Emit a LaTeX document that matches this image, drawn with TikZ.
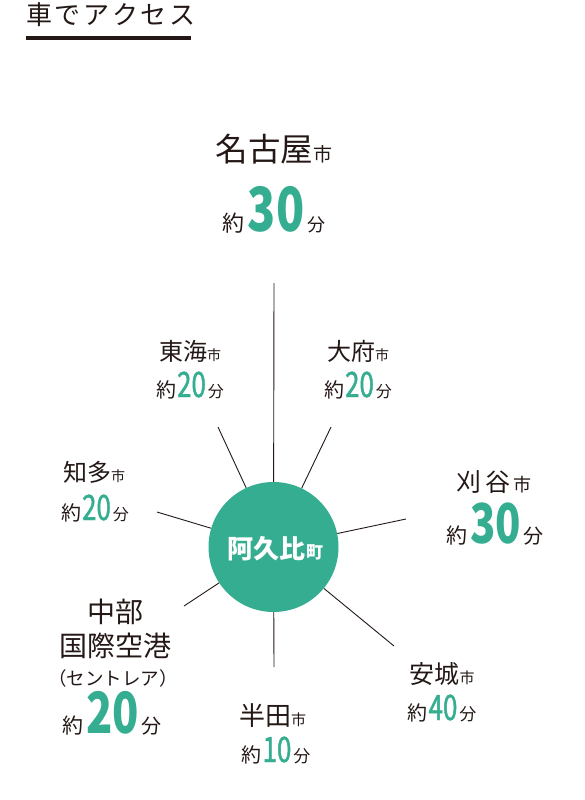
\documentclass[tikz,border=0pt]{standalone}
\usepackage{fontspec}
\setmainfont{Noto Sans CJK JP}
\newfontfamily\numfont[FakeStretch=0.76]{Noto Sans CJK JP}
\newfontfamily\numfontM[FakeStretch=0.74,FakeBold=1.2]{Noto Sans CJK JP}
\definecolor{ink}{RGB}{35,24,21}
\definecolor{grn}{RGB}{52,173,144}
\newcommand\fsz[1]{\fontsize{#1}{#1}\selectfont}
% #1 size of 約, #2 number, #3 number size, #4 size of 分
\newcommand\yakuN[4]{{\fsz{#1}約}\kern1pt{\numfontM\fsz{#3}\color{grn}#2}\kern2pt{\fsz{#4}分}}
\newcommand\yakuB[4]{{\fsz{#1}約}\kern3pt{\numfont\bfseries\fsz{#3}\color{grn}#2}\kern3pt{\fsz{#4}分}}
\begin{document}
\begin{tikzpicture}[x=1pt,y=-1pt,
  lbl/.style={anchor=base, inner sep=0pt, text=ink},
  spoke/.style={draw=ink, line width=0.9pt}]
\useasboundingbox (0,0) rectangle (584,800);
% title
\node[lbl, anchor=base west] (title) at (26,24.5)
  {\fsz{26}車\kern2.6pt で\kern2.6pt ア\kern2.6pt ク\kern2.6pt セ\kern2.6pt ス};
\fill[ink] (26,36.5) rectangle (191,40);
% centre
\node[circle, fill=grn, minimum size=130pt, inner sep=0pt] (c) at (273.5,547) {};
\node[lbl, text=white, font=\bfseries] (cname) at (275,558) {\fsz{26}阿久比\kern1pt\fsz{17}町};
% spokes
\coordinate (pN) at (274,283);
\coordinate (pTokai) at (218,427);
\coordinate (pObu) at (331,427);
\coordinate (pChita) at (157,512);
\coordinate (pKariya) at (406,519);
\coordinate (pChubu) at (184,606);
\coordinate (pHanda) at (274,667);
\coordinate (pAnjo) at (394,646);
\foreach \p in {pN,pTokai,pObu,pChita,pKariya,pChubu,pHanda,pAnjo}
  \draw[spoke] (c) -- (\p);
% labels
\node[lbl] (nagoya) at (274,161) {\fsz{32.5}名古屋\fsz{19}市};
\node[lbl] (nagoyaT) at (274,231) {\yakuB{22}{30}{61}{18}};
\node[lbl] (tokai) at (190,360.5) {\fsz{24}東海\fsz{14}市};
\node[lbl] (tokaiT) at (190,397) {\yakuN{20}{20}{35}{16}};
\node[lbl] (obu) at (358,360.5) {\fsz{24}大府\fsz{14}市};
\node[lbl] (obuT) at (358,397) {\yakuN{20}{20}{35}{16}};
\node[lbl] (chita) at (94,481.5) {\fsz{24}知多\fsz{14}市};
\node[lbl] (chitaT) at (95,520) {\yakuN{20}{20}{35}{16}};
\node[lbl] (kariya) at (494,491.5) {\fsz{25}刈\kern4pt 谷\kern3pt\fsz{18}市};
\node[lbl] (kariyaT) at (495,543) {\yakuB{21}{30}{55}{20}};
\node[lbl] (chubu1) at (115,622) {\fsz{28}中部};
\node[lbl] (chubu2) at (115,656) {\fsz{28}国際空港};
\node[lbl] (chubu3) at (113,685) {\fsz{18.5}（セントレア）};
\node[lbl] (chubuT) at (112,733) {\yakuB{21}{20}{57}{20}};
\node[lbl] (handa) at (272.5,725) {\fsz{26}半田\fsz{15}市};
\node[lbl] (handaT) at (276,762) {\yakuN{20}{10}{35}{17}};
\node[lbl] (anjo) at (442,683) {\fsz{25}安城\fsz{15}市};
\node[lbl] (anjoT) at (442,720) {\yakuN{20}{40}{35}{17}};
\end{tikzpicture}
\end{document}
